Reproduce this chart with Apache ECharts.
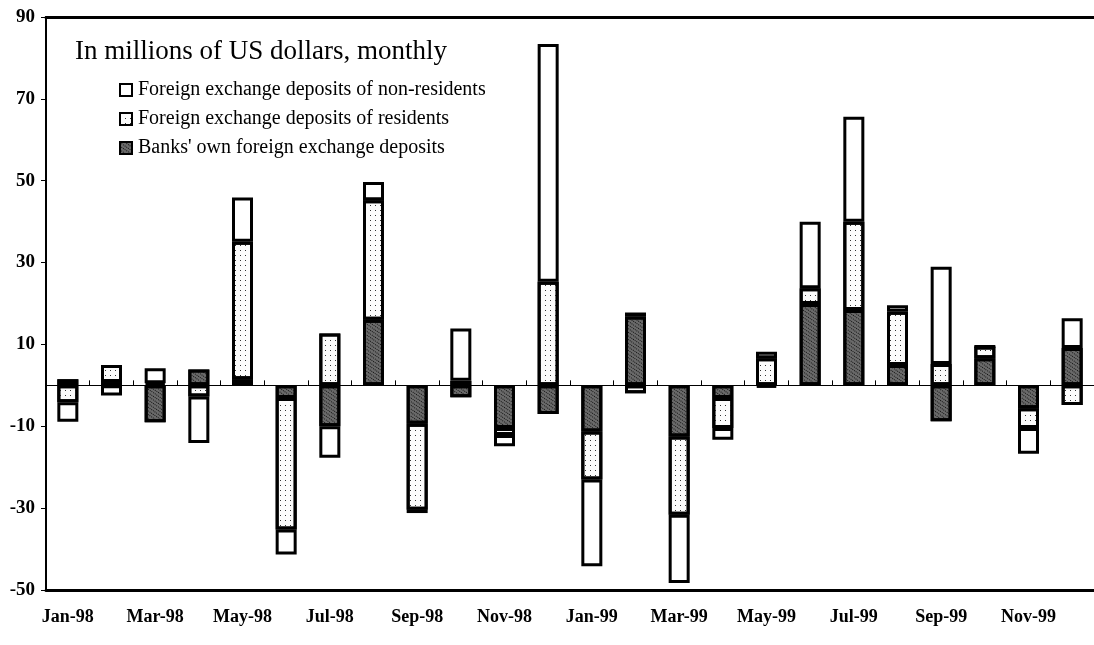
<!DOCTYPE html>
<html>
<head>
<meta charset="utf-8">
<title>Foreign exchange deposits</title>
<script src="https://cdn.jsdelivr.net/npm/echarts@6/dist/echarts.min.js"></script>
<style>
    html, body { margin: 0; padding: 0; background: #fff; }
    #chart { width: 1094px; height: 645px; }
</style>
</head>
<body>
<div id="chart"></div>
<script>
// ============================================
// 数据
// ============================================

const months = [
    'Jan-98', 'Feb-98', 'Mar-98', 'Apr-98', 'May-98', 'Jun-98',
    'Jul-98', 'Aug-98', 'Sep-98', 'Oct-98', 'Nov-98', 'Dec-98',
    'Jan-99', 'Feb-99', 'Mar-99', 'Apr-99', 'May-99', 'Jun-99',
    'Jul-99', 'Aug-99', 'Sep-99', 'Oct-99', 'Nov-99', 'Dec-99'
];

// Banks' own foreign exchange deposits
const banksOwn = [
    1.5, 0.8, -9.0, 3.9, 1.5, -3.1,
    -10.0, 16.0, -9.4, -2.9, -10.4, -7.0,
    -11.3, 16.8, -12.5, -3.1, -0.4, 19.9,
    18.4, 5.0, -8.8, 6.6, -5.6, 9.1
];

// Foreign exchange deposits of residents
const residents = [
    -4.1, 4.2, 0.5, -2.7, 33.6, -32.1,
    12.7, 29.2, -21.0, 1.1, -1.7, 25.3,
    -11.7, -1.9, -19.1, -7.3, 6.6, 3.8,
    21.6, 13.0, 5.2, 2.9, -4.8, -4.8
];

// Foreign exchange deposits of non-residents
const nonResidents = [
    -4.8, -2.5, 3.7, -11.4, 10.8, -6.1,
    -7.7, 4.5, -0.8, 12.8, -2.8, 58.1,
    -21.2, 1.0, -16.7, -2.9, 1.6, 16.3,
    25.6, 1.6, 23.8, 0.0, -6.3, 7.3
];

const yTicks = { min: -50, max: 90, step: 20 };

// ============================================
// 样式
// ============================================

const FONT = '"Liberation Serif", "DejaVu Serif", serif';

const border = { borderColor: '#000', borderWidth: 3 };

const styles = {
    banks: Object.assign({
        color: '#6a6a6a',
        decal: {
            symbol: 'rect', symbolSize: 1, color: '#111',
            dashArrayX: [1, 1], dashArrayY: [1, 2], rotation: 0.6
        }
    }, border),
    residents: Object.assign({
        color: '#fbfbfb',
        decal: {
            symbol: 'rect', symbolSize: 1, color: '#333',
            dashArrayX: [1, 4], dashArrayY: [1, 4], rotation: 0
        }
    }, border),
    nonResidents: Object.assign({ color: '#ffffff' }, border)
};

function barSeries(name, data, itemStyle) {
    return {
        name: name,
        type: 'bar',
        stack: 'total',
        data: data,
        barWidth: 21,
        itemStyle: itemStyle,
        emphasis: { disabled: true }
    };
}

// ============================================
// 图表
// ============================================

const chart = echarts.init(document.getElementById('chart'), null, { renderer: 'canvas' });

const option = {
    animation: false,
    backgroundColor: '#fff',
    title: {
        text: 'In millions of US dollars, monthly',
        left: 70,
        top: 33,
        textStyle: { fontFamily: FONT, fontSize: 27, fontWeight: 'normal', color: '#000' }
    },
    legend: {
        orient: 'vertical',
        left: 114,
        top: 75,
        itemGap: 9,
        itemWidth: 12,
        itemHeight: 12,
        icon: 'rect',
        data: [
            'Foreign exchange deposits of non-residents',
            'Foreign exchange deposits of residents',
            "Banks' own foreign exchange deposits"
        ],
        itemStyle: { borderColor: '#000', borderWidth: 2 },
        textStyle: { fontFamily: FONT, fontSize: 20, lineHeight: 20, color: '#000', padding: [0, 0, 0, 1] }
    },
    grid: { left: 46, right: -2, top: 17, bottom: 55, containLabel: false },
    xAxis: [
        {
            // 零线及刻度
            type: 'category',
            data: months,
            position: 'bottom',
            axisLine: { onZero: true, lineStyle: { color: '#000', width: 1 } },
            axisTick: { show: true, inside: true, length: 5, interval: 0, lineStyle: { color: '#000' } },
            axisLabel: { show: false },
            splitLine: { show: false },
            z: 5
        },
        {
            // 底部边框和标签
            type: 'category',
            data: months,
            position: 'bottom',
            axisLine: { onZero: false, lineStyle: { color: '#000', width: 3 } },
            axisTick: { show: false },
            axisLabel: {
                interval: 1,
                margin: 18,
                fontFamily: FONT,
                fontSize: 18,
                fontWeight: 'bold',
                color: '#000'
            }
        },
        {
            // 顶部边框
            type: 'category',
            data: months,
            position: 'top',
            axisLine: { onZero: false, lineStyle: { color: '#000', width: 3 } },
            axisTick: { show: false },
            axisLabel: { show: false }
        }
    ],
    yAxis: {
        type: 'value',
        min: yTicks.min,
        max: yTicks.max,
        interval: yTicks.step,
        axisLine: { show: true, lineStyle: { color: '#000', width: 2 } },
        axisTick: { show: true, length: 5, lineStyle: { color: '#000' } },
        splitLine: { show: false },
        axisLabel: {
            margin: 11,
            fontFamily: FONT,
            fontSize: 19,
            fontWeight: 'bold',
            color: '#000'
        }
    },
    series: [
        barSeries("Banks' own foreign exchange deposits", banksOwn, styles.banks),
        barSeries('Foreign exchange deposits of residents', residents, styles.residents),
        barSeries('Foreign exchange deposits of non-residents', nonResidents, styles.nonResidents)
    ]
};

chart.setOption(option);
</script>
</body>
</html>
